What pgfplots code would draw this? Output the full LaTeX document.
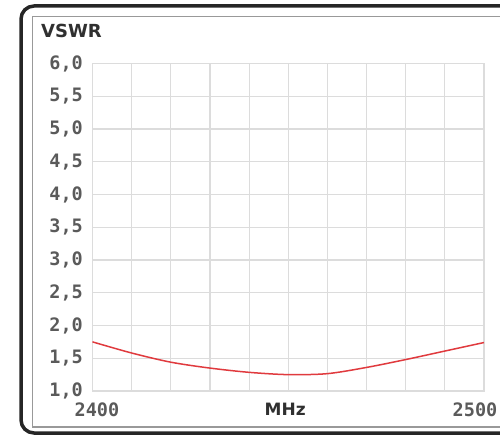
\documentclass[border=0pt]{standalone}
\usepackage{fontspec}
\setmainfont{DejaVu Sans}
\setmonofont{DejaVu Sans Mono}
\usepackage{pgfplots}
\pgfplotsset{compat=1.18}
\definecolor{gridc}{HTML}{DCDCDC}
\definecolor{curve}{HTML}{E03A3E}
\definecolor{tickc}{HTML}{5A5A5A}
\definecolor{labc}{HTML}{303030}
\begin{document}
\begin{tikzpicture}[x=1pt,y=1pt]
\useasboundingbox (0,0) rectangle (500,437);
\begin{scope}
\clip (0,0) rectangle (500,437);
\draw[line width=3.5pt, color=black!85, rounded corners=13pt] (21,4) rectangle (540,431);
\draw[line width=1.6pt, color=black!40] (32.5,10) rectangle (540,420.5);
\end{scope}
\begin{axis}[
  at={(92.5pt,46pt)}, anchor=south west,
  width=391.5pt, height=327.5pt, scale only axis,
  xmin=2400, xmax=2500, ymin=1, ymax=6,
  xtick={2400,2500}, minor xtick={2410,2420,...,2490},
  xticklabels={\hspace*{9pt}2400,\hspace*{-18pt}2500},
  ytick={1,1.5,...,6},
  grid=both,
  grid style={gridc, line width=1.2pt},
  minor grid style={gridc, line width=1.2pt},
  axis line style={gridc, line width=1.2pt},
  major tick length=0pt, minor tick length=0pt,
  /pgf/number format/.cd, fixed, fixed zerofill, precision=1, use comma, assume math mode=true,
  /pgfplots/.cd,
  yticklabel style={font=\fontsize{18.5}{20}\ttfamily\bfseries, text=tickc, inner sep=0pt, anchor=east, xshift=-9.5pt},
  xticklabel style={font=\fontsize{18.5}{20}\ttfamily\bfseries, text=tickc, inner sep=0pt, anchor=north, yshift=-12pt},
  xlabel={MHz},
  xlabel style={at={(axis description cs:0.5,0)}, anchor=north, yshift=-12pt, xshift=-3pt, font=\fontsize{17}{20}\selectfont\bfseries, text=labc, inner sep=0pt},
  title={VSWR},
  title style={at={(axis description cs:0,1)}, anchor=south west, xshift=-51.5pt, yshift=19.5pt, font=\fontsize{18}{20}\selectfont\bfseries, text=labc, inner sep=0pt},
  clip=false,
]
\addplot[curve, line width=1.5pt, smooth] coordinates {
  (2400,1.75) (2410,1.58) (2420,1.44) (2430,1.35) (2440,1.285)
  (2450,1.25) (2460,1.265) (2470,1.36) (2480,1.48)
  (2490,1.61) (2500,1.74)
};
\end{axis}
\end{tikzpicture}
\end{document}
